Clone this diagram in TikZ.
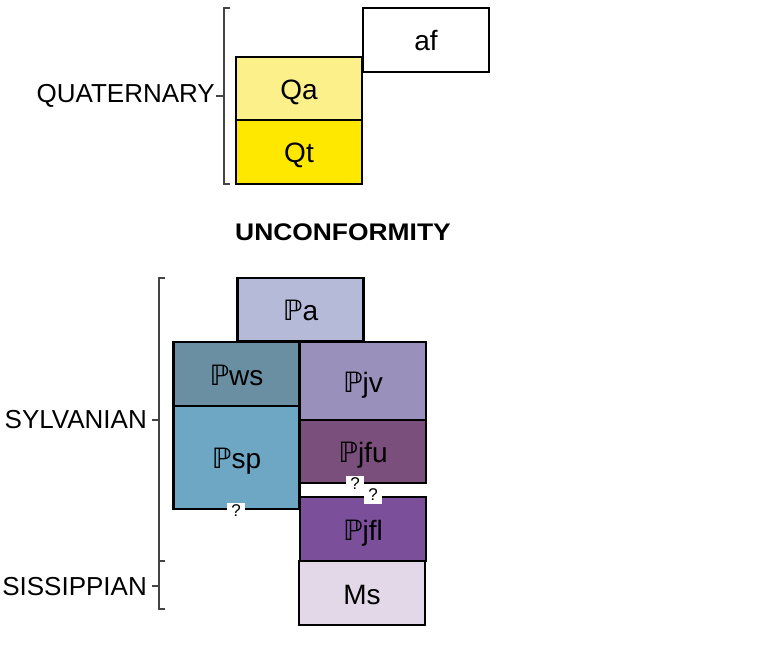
\documentclass[tikz,border=0pt]{standalone}
\usepackage{fontspec}
\setmainfont{Liberation Sans}
\newfontfamily\djvfont{DejaVu Sans}
\newcommand\Pn{{\djvfont ℙ}}
\definecolor{cQa}{HTML}{FBF08A}
\definecolor{cQt}{HTML}{FFE800}
\definecolor{cPa}{HTML}{B6BAD9}
\definecolor{cPws}{HTML}{6A8FA2}
\definecolor{cPsp}{HTML}{6EA7C4}
\definecolor{cPjv}{HTML}{9A90BC}
\definecolor{cPjfu}{HTML}{7A4F7B}
\definecolor{cPjfl}{HTML}{7B4F9A}
\definecolor{cMs}{HTML}{E2D8E8}
\definecolor{brk}{HTML}{444444}
\begin{document}
\begin{tikzpicture}[x=1pt,y=-1pt,
  unit/.style={draw=black, line width=2.8pt, inner sep=0pt, minimum width=126pt,
    text height=22pt, text depth=0pt,
    font=\fontsize{28}{32}\selectfont},
  agelabel/.style={anchor=east, inner sep=0pt, font=\fontsize{26}{30}\selectfont},
  brack/.style={draw=brk, line width=1.3pt},
  qmark/.style={fill=white, inner sep=1.5pt, minimum width=18pt, minimum height=17pt,
    font=\fontsize{17}{19}\selectfont}]
\useasboundingbox (0,0) rectangle (764,647);
% Quaternary
\node[unit, minimum height=64pt] (af) at (426,40) {af};
\node[unit, fill=cQa, minimum height=63pt] (qa) at (299,88.5) {Qa};
\node[unit, fill=cQt, minimum height=64pt] (qt) at (299,152) {Qt};
\coordinate (qtop) at (224,8);
\coordinate (qbot) at (224,184);
\draw[brack] ([xshift=6pt]qtop) -- (qtop) -- (qbot) -- ([xshift=6pt]qbot);
\coordinate (qmid) at (224,96);
\draw[brack] (qmid) -- ([xshift=-8pt]qmid);
\node[agelabel] (quat) at (215,96) {QUATERNARY};
% Unconformity
\node[font=\bfseries\fontsize{24}{28}\selectfont, inner sep=0pt] (unc) at (343,232) {\addfontfeature{FakeStretch=1.1}UNCONFORMITY};
% Pennsylvanian
\node[unit, fill=cPa, minimum height=63pt] (pa) at (300.5,309.5) {\Pn a};
\node[unit, fill=cPws, minimum height=64pt] (pws) at (236.5,374) {\Pn ws};
\node[unit, fill=cPsp, minimum height=103pt] (psp) at (236.5,457.5) {\Pn sp};
\node[unit, fill=cPjv, minimum height=78pt] (pjv) at (363,381) {\Pn jv};
\node[unit, fill=cPjfu, minimum height=63pt] (pjfu) at (363,451.5) {\Pn jfu};
\node[unit, fill=cPjfl, minimum height=64pt] (pjfl) at (363,529) {\Pn jfl};
\node[unit, fill=cMs, minimum height=64pt] (ms) at (362,593) {Ms};
\node[qmark] (q1) at (236,511) {?};
\node[qmark] (q2) at (355,484) {?};
\node[qmark] (q3) at (373,495) {?};
% Brackets
\coordinate (ptop) at (159,278);
\coordinate (pbot) at (159,561);
\coordinate (mbot) at (159,609);
\draw[brack] ([xshift=6pt]ptop) -- (ptop) -- (pbot) -- ([xshift=6pt]pbot);
\draw[brack] (pbot) -- (mbot) -- ([xshift=6pt]mbot);
\coordinate (pmid) at (159,420);
\coordinate (mmid) at (159,586);
\draw[brack] (pmid) -- ([xshift=-7pt]pmid);
\draw[brack] (mmid) -- ([xshift=-7pt]mmid);
\node[agelabel] (penn) at (147,420) {SYLVANIAN};
\node[agelabel] (miss) at (147,587) {SISSIPPIAN};
\end{tikzpicture}
\end{document}
